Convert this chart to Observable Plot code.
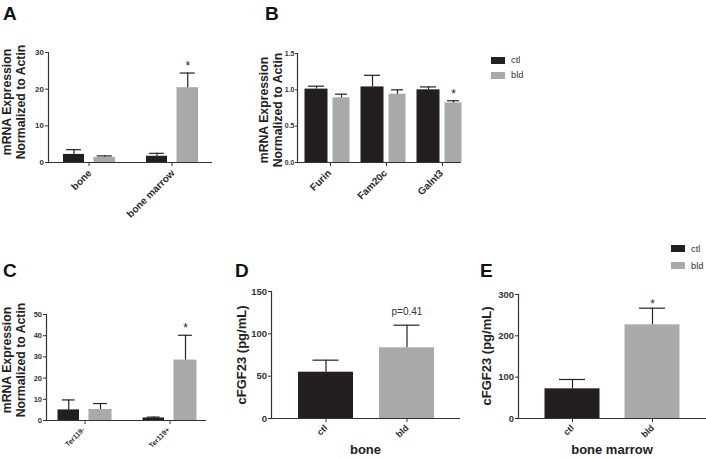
<!DOCTYPE html>
<html><head><meta charset="utf-8">
<script src="https://cdn.jsdelivr.net/npm/d3@7"></script>
<script src="https://cdn.jsdelivr.net/npm/@observablehq/plot@0.6"></script>
<style>
body{margin:0;background:#fff;}
#fig{position:relative;width:706px;height:458px;overflow:hidden;font-family:"Liberation Sans",Arial,sans-serif;background:#fff;}
.panel{position:absolute;line-height:0;}
.panel svg{max-width:none !important;display:block;}
.letter{position:absolute;font-weight:bold;font-size:19px;color:#111;line-height:1;}
.ytitle{position:absolute;font-weight:bold;color:#222;white-space:nowrap;text-align:center;transform:translate(-50%,-50%) rotate(-90deg);}
.xtitle{position:absolute;font-weight:bold;color:#222;white-space:nowrap;transform:translate(-50%,-50%);font-size:13px;line-height:1;}
.legend{position:absolute;font-size:9.3px;color:#333;}
.legend .row{display:flex;align-items:center;height:15px;}
.legend .sw{width:14px;height:7px;margin-right:6px;}
</style></head>
<body><div id="fig"></div>
<script>
// ---------- data ----------
const groups = ["ctl", "bld"];
const groupColors = ["#231f20", "#a8a9ab"];

// Panel A
const catsA = ["bone", "bone marrow"];
const ctlA = [2.2, 1.7];
const ctlSemA = [1.3, 0.8];
const bldA = [1.4, 20.4];
const bldSemA = [0.4, 4.0];
const sigA = ["", "*"];
const yTicksA = [0, 10, 20, 30];

// Panel B
const catsB = ["Furin", "Fam20c", "Galnt3"];
const ctlB = [1.01, 1.04, 1.00];
const ctlSemB = [0.04, 0.16, 0.04];
const bldB = [0.89, 0.94, 0.82];
const bldSemB = [0.05, 0.06, 0.03];
const sigB = ["", "", "*"];
const yTicksB = [0, 0.5, 1.0, 1.5];

// Panel C
const catsC = ["Ter119-", "Ter119+"];
const ctlC = [5.0, 1.2];
const ctlSemC = [4.7, 0.4];
const bldC = [5.2, 28.5];
const bldSemC = [2.8, 11.7];
const sigC = ["", "*"];
const yTicksC = [0, 10, 20, 30, 40, 50];

// Panel D (bone)
const valD = [54.7, 83.5];
const semD = [14.2, 26.7];
const annD = ["", "p=0.41"];
const yTicksD = [0, 50, 100, 150];

// Panel E (bone marrow)
const valE = [71.8, 226.7];
const semE = [22.6, 40.2];
const annE = ["", "*"];
const yTicksE = [0, 100, 200, 300];

const yTitleMRNA = ["mRNA Expression", "Normalized to Actin"];
const yTitleFGF = ["cFGF23 (pg/mL)"];
const xTitleD = "bone";
const xTitleE = "bone marrow";

// ---------- helpers ----------
const fig = document.getElementById("fig");
const FONT = '"Liberation Sans",Arial,sans-serif';
const LINE = "#333";

function place(svg, box) {
  const d = document.createElement("div");
  d.className = "panel";
  d.style.left = box.left + "px";
  d.style.top = box.top + "px";
  d.style.width = box.width + "px";
  d.style.height = box.height + "px";
  d.appendChild(svg);
  fig.appendChild(d);
}
function margins(box, fr) {
  return {
    width: box.width, height: box.height,
    marginLeft: fr.x0 - box.left,
    marginRight: box.left + box.width - fr.x1,
    marginTop: fr.yTop - box.top,
    marginBottom: box.top + box.height - fr.yBottom
  };
}
function styleStr(size) {
  return `font-family:${FONT};font-size:${size}px;font-weight:bold;color:${LINE};background:transparent;overflow:visible;max-width:none;`;
}
function xAxisMarks(cats, o) {
  return [
    Plot.axisX({tickSize: 4, tickFormat: () => "", label: null}),
    Plot.text(cats, {x: d => d, y: () => 0, text: d => d, rotate: -45, textAnchor: "end", lineAnchor: "middle",
      dx: o.lblDx, dy: o.lblDy, fontSize: o.xFont, fontWeight: "bold", fill: "#2a2a2a"})
  ];
}
function yAxisMark(o) {
  return Plot.axisY(o.yTicks, {tickSize: o.yTickSize ?? 3, tickPadding: o.yTickPad ?? 1.5, fontSize: o.yFont, tickFormat: o.yFmt, label: null});
}

function groupedPanel(o) {
  const rows = o.cats.flatMap((c, i) => [
    {cat: c, group: "ctl", v: o.ctl[i], e: o.ctlSem[i], sig: ""},
    {cat: c, group: "bld", v: o.bld[i], e: o.bldSem[i], sig: o.sig[i]}
  ]);
  const half = o.step / 2;
  const c0 = o.firstCenter - o.box.left;
  const range = [c0 - half, c0 - half + o.step * o.cats.length];
  const marks = [];
  groups.forEach((g, gi) => {
    const [a1, a2] = o.offs[gi];
    const mid = (a1 + a2) / 2;
    const capHalf = (a2 - a1) * o.capFrac / 2;
    const sub = rows.filter(r => r.group === g);
    marks.push(Plot.barY(sub, {x: "cat", y: "v", fill: groupColors[gi], insetLeft: half + a1, insetRight: half - a2}));
    marks.push(Plot.ruleX(sub, {x: "cat", y1: "v", y2: d => d.v + d.e, dx: mid, stroke: "#222", strokeWidth: 1.2}));
    marks.push(Plot.tickY(sub, {x: "cat", y: d => d.v + d.e, insetLeft: half + mid - capHalf, insetRight: half - mid - capHalf, stroke: "#222", strokeWidth: 1.2}));
    marks.push(Plot.text(sub.filter(d => d.sig), {x: "cat", y: d => d.v + d.e, text: "sig", dx: mid, dy: -7, fontSize: 12, fontWeight: "normal", fill: "#222"}));
  });
  const p = Plot.plot({
    ...margins(o.box, o.frame),
    style: styleStr(o.yFont),
    x: {type: "band", domain: o.cats, range, padding: 0, axis: null},
    y: {domain: [o.yTicks[0], o.yTicks[o.yTicks.length - 1]], axis: null},
    marks: [
      ...marks,
      Plot.ruleY([0], {stroke: LINE, strokeWidth: 1.2}),
      Plot.frame({anchor: "left", stroke: LINE, strokeWidth: 1.2}),
      yAxisMark(o),
      ...xAxisMarks(o.cats, o)
    ]
  });
  place(p, o.box);
}

function simplePanel(o) {
  const rows = groups.map((g, i) => ({group: g, v: o.vals[i], e: o.sems[i], ann: o.ann[i]}));
  const c0 = o.firstCenter - o.box.left;
  const half = o.step / 2;
  const range = [c0 - half, c0 - half + o.step * groups.length];
  const inset = (o.step - o.barW) / 2;
  const capIn = half - o.capW / 2;
  const p = Plot.plot({
    ...margins(o.box, o.frame),
    style: styleStr(o.yFont),
    x: {type: "band", domain: groups, range, padding: 0, axis: null},
    y: {domain: [o.yTicks[0], o.yTicks[o.yTicks.length - 1]], axis: null},
    color: {domain: groups, range: groupColors},
    marks: [
      Plot.barY(rows, {x: "group", y: "v", fill: "group", insetLeft: inset, insetRight: inset}),
      Plot.ruleX(rows, {x: "group", y1: "v", y2: d => d.v + d.e, stroke: "#222", strokeWidth: 1.2}),
      Plot.tickY(rows, {x: "group", y: d => d.v + d.e, insetLeft: capIn, insetRight: capIn, stroke: "#222", strokeWidth: 1.2}),
      Plot.text(rows.filter(d => d.ann), {x: "group", y: d => d.v + d.e, text: "ann", dy: o.annDy, fontSize: o.annSize, fontWeight: "normal", fill: "#333"}),
      Plot.ruleY([0], {stroke: LINE, strokeWidth: 1.2}),
      Plot.frame({anchor: "left", stroke: LINE, strokeWidth: 1.2}),
      yAxisMark(o),
      ...xAxisMarks(groups, o)
    ]
  });
  place(p, o.box);
  const t = document.createElement("div");
  t.className = "xtitle"; t.textContent = o.xLabel;
  t.style.left = ((o.frame.x0 + o.frame.x1) / 2) + "px";
  t.style.top = o.xLabelY + "px";
  fig.appendChild(t);
}

function letter(t, x, y) {
  const d = document.createElement("div");
  d.className = "letter"; d.textContent = t;
  d.style.left = x + "px"; d.style.top = y + "px";
  fig.appendChild(d);
}
function ytitle(lines, cx, cy, size) {
  const d = document.createElement("div");
  d.className = "ytitle";
  d.style.left = cx + "px"; d.style.top = cy + "px";
  d.style.fontSize = size + "px";
  d.style.lineHeight = (size + 1.5) + "px";
  lines.forEach(l => { const s = document.createElement("div"); s.textContent = l; d.appendChild(s); });
  fig.appendChild(d);
}
function legend(x, y, gap) {
  const d = document.createElement("div");
  d.className = "legend";
  d.style.left = x + "px"; d.style.top = y + "px";
  groups.forEach((g, i) => {
    const r = document.createElement("div"); r.className = "row"; r.style.height = gap + "px";
    const s = document.createElement("div"); s.className = "sw"; s.style.background = groupColors[i];
    const t = document.createElement("span"); t.textContent = g;
    r.appendChild(s); r.appendChild(t); d.appendChild(r);
  });
  fig.appendChild(d);
}

groupedPanel({
  cats: catsA, ctl: ctlA, ctlSem: ctlSemA, bld: bldA, bldSem: bldSemA, sig: sigA,
  yTicks: yTicksA, yFmt: d3.format("d"),
  box: {left: 30, top: 40, width: 192, height: 180},
  frame: {x0: 48, x1: 212, yTop: 52, yBottom: 162},
  firstCenter: 88, step: 83, offs: [[-25.5, -4.5], [5, 26.5]], capFrac: 0.7,
  yFont: 8, xFont: 10, lblDx: 1, lblDy: 9
});
groupedPanel({
  cats: catsB, ctl: ctlB, ctlSem: ctlSemB, bld: bldB, bldSem: bldSemB, sig: sigB,
  yTicks: yTicksB, yFmt: d3.format(".1f"),
  box: {left: 283, top: 40, width: 182, height: 180},
  frame: {x0: 297, x1: 461, yTop: 53, yBottom: 162},
  firstCenter: 329.5, step: 56, offs: [[-25.5, -2.5], [2.5, 19.5]], capFrac: 0.7,
  yFont: 7, yTickSize: 2, yTickPad: 1, xFont: 10, lblDx: -1, lblDy: 9
});
groupedPanel({
  cats: catsC, ctl: ctlC, ctlSem: ctlSemC, bld: bldC, bldSem: bldSemC, sig: sigC,
  yTicks: yTicksC, yFmt: d3.format("d"),
  box: {left: 30, top: 300, width: 185, height: 158},
  frame: {x0: 46, x1: 206, yTop: 314, yBottom: 420},
  firstCenter: 84, step: 85, offs: [[-27, -5.5], [4, 27]], capFrac: 0.6,
  yFont: 7.5, xFont: 7, lblDx: -1.5, lblDy: 8
});
simplePanel({
  vals: valD, sems: semD, ann: annD, yTicks: yTicksD, xLabel: xTitleD, xLabelY: 449,
  box: {left: 252, top: 280, width: 213, height: 178},
  frame: {x0: 271, x1: 460, yTop: 291, yBottom: 418},
  firstCenter: 325.5, step: 81, barW: 55, capW: 26, annDy: -13, annSize: 10,
  yFont: 9.5, xFont: 9, lblDx: 0, lblDy: 8
});
simplePanel({
  vals: valE, sems: semE, ann: annE, yTicks: yTicksE, xLabel: xTitleE, xLabelY: 449,
  box: {left: 498, top: 280, width: 208, height: 178},
  frame: {x0: 518, x1: 706, yTop: 294, yBottom: 418},
  firstCenter: 571.5, step: 80, barW: 55, capW: 26, annDy: -4.5, annSize: 12,
  yFont: 9.5, xFont: 9, lblDx: 0, lblDy: 8
});

letter("A", 3, 4);
letter("B", 265, 4);
letter("C", 3, 261);
letter("D", 235, 261);
letter("E", 480, 261);
ytitle(yTitleMRNA, 15, 102, 12.25);
ytitle(yTitleMRNA, 272, 110, 12.25);
ytitle(yTitleMRNA, 15, 360, 12.25);
ytitle(yTitleFGF, 242, 355, 13);
ytitle(yTitleFGF, 487, 356, 13);
legend(491, 52.5, 15);
legend(671, 240, 17);
</script></body></html>
